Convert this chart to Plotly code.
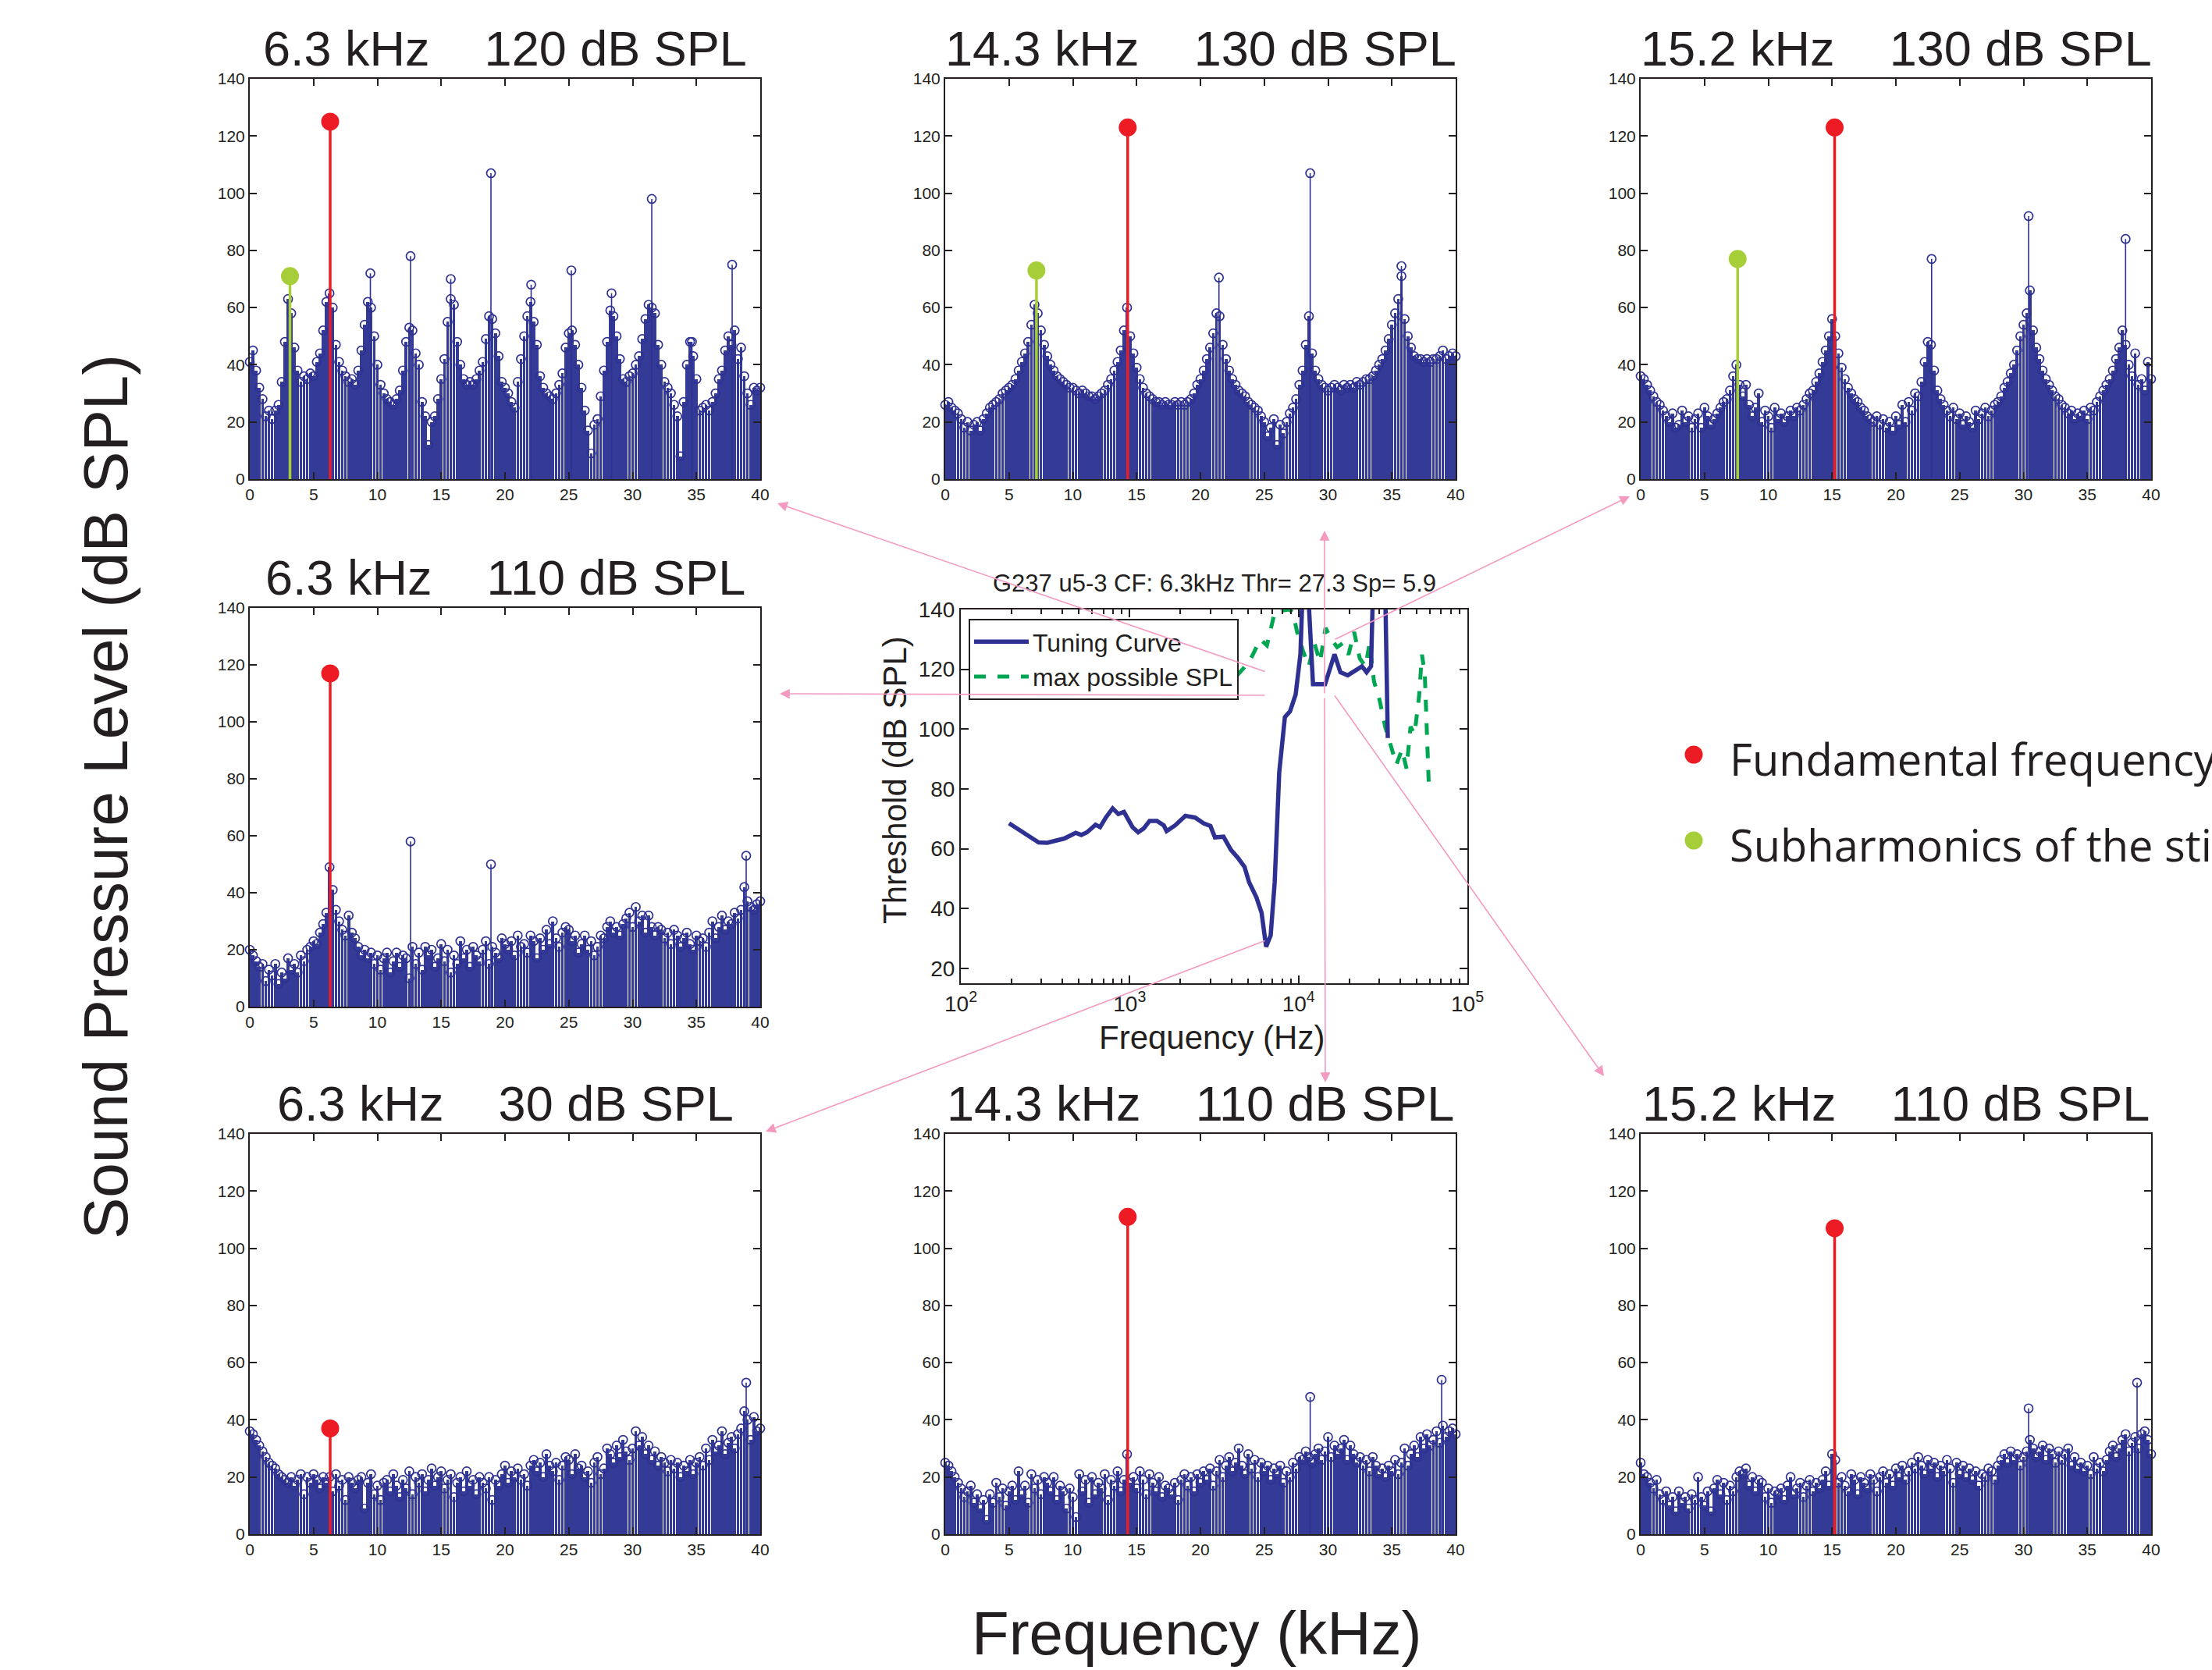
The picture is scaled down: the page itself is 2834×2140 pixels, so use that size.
import plotly.graph_objects as go

W, H = 2834, 2140

# ---------------- DATA ----------------
# Spectra, dB SPL, on 0.25 kHz bins from 0 to 40 kHz (20 bins per row = 5 kHz)
BIN_KHZ = 0.25

SPEC_63_120 = [
    41, 45, 38, 32, 28, 22, 24, 21, 24, 26, 34, 48, 63, 58, 46, 38, 34, 36, 35, 37,
    36, 41, 44, 52, 62, 65, 60, 47, 41, 38, 36, 34, 35, 33, 38, 45, 54, 62, 60, 50,
    40, 33, 30, 28, 27, 26, 28, 31, 38, 48, 53, 52, 44, 40, 27, 22, 12, 20, 22, 28,
    35, 42, 55, 63, 61, 48, 40, 35, 33, 34, 33, 35, 38, 41, 49, 57, 56, 51, 43, 34,
    32, 30, 27, 25, 34, 42, 50, 57, 62, 55, 47, 36, 32, 30, 29, 28, 30, 33, 37, 46,
    51, 52, 47, 40, 32, 24, 17, 9, 19, 21, 29, 38, 48, 59, 57, 50, 42, 35, 34, 36,
    37, 40, 43, 49, 56, 61, 60, 58, 47, 40, 34, 32, 30, 26, 22, 8, 27, 40, 48, 43,
    35, 24, 25, 26, 24, 27, 30, 35, 38, 45, 50, 47, 52, 42, 46, 36, 30, 26, 32, 31,
    32]
SPEC_143_130 = [
    26, 27, 25, 24, 23, 21, 18, 20, 17, 19, 20, 17, 21, 23, 25, 26, 27, 28, 30, 31,
    32, 33, 35, 38, 41, 44, 48, 54, 61, 58, 52, 47, 43, 40, 38, 36, 35, 34, 33, 32,
    32, 31, 30, 31, 30, 29, 29, 28, 29, 30, 31, 33, 35, 38, 41, 45, 52, 60, 50, 44,
    39, 35, 32, 30, 29, 28, 27, 27, 26, 27, 26, 26, 27, 26, 27, 26, 27, 28, 30, 33,
    35, 38, 42, 46, 51, 58, 57, 47, 42, 38, 35, 33, 31, 30, 29, 27, 26, 25, 24, 22,
    20, 15, 18, 21, 12, 19, 16, 20, 23, 25, 28, 33, 38, 47, 57, 44, 38, 35, 33, 32,
    31, 32, 33, 32, 31, 33, 32, 33, 32, 34, 33, 34, 35, 35, 36, 38, 40, 42, 45, 49,
    54, 58, 63, 71, 56, 50, 46, 43, 42, 42, 41, 42, 41, 42, 42, 43, 45, 42, 43, 44,
    43]
SPEC_152_130 = [
    36, 35, 33, 31, 29, 27, 26, 24, 22, 20, 23, 18, 19, 24, 20, 22, 18, 21, 23, 18,
    25, 22, 19, 21, 23, 25, 27, 28, 31, 36, 40, 33, 29, 33, 26, 22, 25, 30, 20, 24,
    22, 18, 25, 21, 23, 20, 22, 24, 22, 25, 24, 26, 28, 30, 31, 34, 37, 41, 45, 50,
    56, 50, 44, 39, 35, 32, 30, 28, 27, 25, 24, 22, 21, 20, 22, 19, 21, 18, 20, 17,
    22, 19, 26, 20, 27, 24, 30, 29, 34, 41, 48, 47, 38, 31, 28, 26, 24, 22, 25, 21,
    23, 19, 22, 20, 18, 24, 21, 23, 25, 22, 24, 26, 27, 29, 32, 34, 37, 40, 45, 50,
    54, 58, 66, 52, 46, 42, 38, 35, 33, 31, 29, 28, 26, 25, 23, 24, 21, 23, 22, 24,
    21, 25, 24, 27, 29, 31, 33, 35, 38, 42, 46, 52, 47, 40, 36, 44, 33, 35, 31, 41,
    35]
SPEC_63_110 = [
    20, 18, 16, 14, 15, 9, 13, 11, 15, 8, 12, 10, 17, 13, 15, 12, 18, 16, 20, 21,
    23, 22, 26, 29, 33, 49, 41, 34, 30, 27, 25, 32, 26, 24, 21, 18, 20, 17, 19, 15,
    18, 13, 17, 19, 12, 16, 19, 14, 18, 17, 10, 21, 15, 19, 13, 21, 18, 20, 14, 17,
    22, 16, 20, 12, 18, 15, 23, 17, 20, 14, 21, 18, 16, 20, 23, 15, 21, 19, 17, 24,
    22, 20, 23, 18, 25, 21, 22, 19, 25, 23, 17, 24, 20, 27, 22, 30, 24, 21, 26, 28,
    27, 23, 25, 19, 22, 25, 20, 23, 18, 21, 25, 24, 28, 30, 26, 28, 25, 29, 31, 33,
    28, 35, 30, 32, 26, 32, 28, 25, 28, 27, 24, 26, 22, 27, 25, 21, 24, 26, 22, 20,
    25, 23, 24, 21, 26, 30, 24, 28, 32, 27, 30, 29, 33, 31, 34, 42, 37, 35, 34, 36,
    37]
SPEC_63_30 = [
    36, 35, 33, 31, 29, 27, 25, 24, 23, 21, 20, 19, 18, 20, 17, 19, 21, 14, 20, 18,
    21, 19, 16, 20, 18, 20, 15, 21, 17, 19, 12, 20, 18, 16, 19, 20, 9, 18, 21, 14,
    17, 12, 18, 19, 15, 21, 17, 13, 19, 16, 22, 14, 20, 18, 21, 15, 19, 23, 17, 20,
    22, 16, 19, 21, 13, 18, 20, 15, 22, 17, 19, 14, 20, 18, 16, 20, 12, 19, 17, 21,
    24, 18, 22, 20, 23, 19, 21, 17, 24, 26, 22, 25, 20, 28, 24, 22, 25, 19, 24, 27,
    26, 21, 28, 23, 24, 20, 22, 18, 25, 27, 21, 23, 30, 28, 25, 31, 27, 33, 29, 26,
    30, 36, 31, 34, 28, 31, 26, 29, 24, 27, 25, 22, 26, 23, 25, 20, 24, 22, 26, 21,
    25, 27, 24, 30, 26, 33, 29, 31, 36, 28, 32, 34, 30, 35, 37, 43, 40, 33, 41, 36,
    37]
SPEC_143_110 = [
    25, 24, 22, 20, 18, 16, 13, 15, 17, 11, 14, 9, 12, 5, 14, 11, 18, 13, 16, 10,
    15, 17, 12, 22, 14, 17, 11, 21, 16, 19, 14, 20, 18, 15, 20, 12, 17, 15, 9, 16,
    13, 6, 21, 15, 19, 11, 20, 14, 18, 16, 21, 12, 19, 17, 22, 15, 19, 28, 18, 20,
    16, 22, 19, 14, 21, 18, 15, 20, 13, 17, 16, 14, 18, 12, 19, 21, 17, 20, 15, 21,
    18, 22, 19, 23, 17, 22, 26, 20, 24, 27, 22, 25, 30, 24, 21, 28, 23, 26, 20, 25,
    22, 24, 19, 23, 21, 24, 18, 22, 20, 25, 23, 27, 26, 29, 27, 25, 28, 30, 26, 29,
    34, 27, 31, 28, 30, 33, 26, 31, 28, 25, 27, 24, 26, 22, 27, 24, 21, 23, 20, 24,
    22, 26, 21, 25, 30, 24, 28, 31, 27, 34, 30, 35, 31, 33, 36, 32, 38, 34, 36, 37,
    35]
SPEC_152_110 = [
    25, 21, 20, 18, 16, 19, 14, 12, 15, 10, 13, 8, 15, 11, 13, 9, 14, 12, 20, 13,
    10, 15, 8, 16, 19, 14, 18, 12, 17, 15, 20, 22, 21, 23, 17, 20, 15, 19, 18, 13,
    16, 11, 15, 14, 16, 12, 17, 20, 14, 16, 18, 13, 17, 19, 15, 18, 16, 19, 22, 17,
    28, 26, 18, 20, 17, 15, 21, 19, 14, 20, 18, 16, 21, 19, 15, 20, 22, 18, 21, 17,
    23, 20, 24, 19, 22, 25, 23, 27, 24, 21, 26, 23, 25, 20, 24, 22, 26, 23, 18, 25,
    21, 24, 20, 23, 19, 22, 17, 21, 20, 23, 22, 19, 24, 26, 28, 25, 29, 26, 28, 24,
    27, 29, 33, 30, 27, 29, 31, 26, 30, 28, 25, 29, 26, 28, 30, 24, 27, 23, 25, 22,
    24, 21, 27, 23, 25, 22, 26, 29, 31, 27, 30, 33, 35, 29, 32, 34, 30, 35, 36, 33,
    28]

# Isolated harmonic / distortion components (kHz, dB SPL)
PEAK_F_63_120 = [9.45, 12.6, 15.75, 18.9, 22.05, 25.2, 28.35, 31.5, 34.65, 37.8]
PEAK_L_63_120 = [72, 78, 70, 107, 68, 73, 65, 98, 48, 75]
PEAK_F_143_130 = [21.45, 28.6, 35.75]
PEAK_L_143_130 = [70.5, 107, 74.5]
PEAK_F_152_130 = [22.8, 30.4, 38.0]
PEAK_L_152_130 = [77, 92, 84]
PEAK_F_63_110 = [12.6, 18.9, 38.9]
PEAK_L_63_110 = [58, 50, 53]
PEAK_F_63_30 = [38.9]
PEAK_L_63_30 = [53]
PEAK_F_143_110 = [28.6, 38.9]
PEAK_L_143_110 = [48, 54]
PEAK_F_152_110 = [30.4, 38.9]
PEAK_L_152_110 = [44, 53]

# Fundamental (red) and subharmonic (green) components
FUND_F = [6.3, 14.3, 15.2, 6.3, 6.3, 14.3, 15.2]
FUND_L = [125, 123, 123, 117, 37, 111, 107]
SUB_F = [3.15, 7.15, 7.6, None, None, None, None]
SUB_L = [71, 73, 77, None, None, None, None]

TITLE_FREQ = ["6.3 kHz", "14.3 kHz", "15.2 kHz", "6.3 kHz", "6.3 kHz", "14.3 kHz", "15.2 kHz"]
TITLE_LEVEL = ["120 dB SPL", "130 dB SPL", "130 dB SPL", "110 dB SPL", "30 dB SPL", "110 dB SPL", "110 dB SPL"]

# Tuning curve (Hz, dB SPL)
TC_FREQ = [193, 289, 325, 410, 479, 517, 559, 628, 668, 722, 793, 857, 925, 1040, 1123,
           1213, 1312, 1451, 1592, 1655, 1858, 2137, 2440, 2741, 3007, 3199, 3594, 3979,
           4368, 4790, 5096, 5635, 6041, 6428, 6840, 7224, 7688, 8303, 8905, 9616, 10260,
           10700, 11300, 11550, 12180, 14360, 16330, 17700, 19560, 21900, 23750, 25300,
           26880, 27700, 32550, 33770]
TC_THR = [68.5, 62.1, 62, 63.4, 65.3, 64.6, 65.5, 68, 67.2, 70.4, 73.5, 71.6, 72.3, 67.2, 65.5,
          66.8, 69.3, 69.3, 67.8, 65.9, 67.8, 71, 70.4, 68.5, 67.6, 63.8, 64, 59.6,
          57, 53.9, 48.8, 43.7, 38.6, 27.2, 31, 48.8, 85.6, 104, 105.9, 111.6, 125,
          155, 155, 140, 115, 115, 125, 119, 118, 120, 121, 119,
          121, 150, 150, 97]
MS_FREQ = [193, 400, 800, 1500, 2500, 3594, 5096, 5945, 6500, 7224, 7800, 8770, 9270, 9800,
           10650, 11500, 12420, 13400, 14450, 15680, 16930, 18270, 19780, 21350, 23060,
           24920, 26350, 27980, 30200, 32580, 35180, 37980, 41000, 43620, 46070, 48660,
           51760, 53800, 55930, 59050]
MS_SPL = [113, 113, 113, 113, 113, 112.9, 122.4, 130, 128, 139, 139.5, 140, 139, 132.5,
          126, 121, 128.7, 122.4, 133.8, 130, 127.4, 128.7, 124.9, 132.5, 123.6,
          121, 128.7, 116, 109.7, 100.8, 94.5, 88.1, 93.2, 86.8, 100.8, 98.3,
          111, 124.9, 118.6, 81.8]

SPECTRA = [SPEC_63_120, SPEC_143_130, SPEC_152_130, SPEC_63_110, SPEC_63_30, SPEC_143_110, SPEC_152_110]
PEAKS_F = [PEAK_F_63_120, PEAK_F_143_130, PEAK_F_152_130, PEAK_F_63_110, PEAK_F_63_30, PEAK_F_143_110, PEAK_F_152_110]
PEAKS_L = [PEAK_L_63_120, PEAK_L_143_130, PEAK_L_152_130, PEAK_L_63_110, PEAK_L_63_30, PEAK_L_143_110, PEAK_L_152_110]

# ---------------- STYLE / LAYOUT ----------------
BLUE = "#2e3192"
FILL = "#343b96"
RED = "#ed1c24"
GREEN = "#a6ce39"
DGREEN = "#00a651"
PINK = "#f49ac1"
TXT = "#231f20"
FONT = "Liberation Sans, Arial, Helvetica, sans-serif"
LFONT = "Open Sans, Lato, sans-serif"

# panel boxes in pixels: (left, right, top, bottom)
BOXES = [(320, 974, 101, 614), (1211, 1865, 101, 614), (2102, 2756, 101, 614),
         (320, 974, 779, 1290),
         (320, 974, 1453, 1966), (1211, 1865, 1453, 1966), (2102, 2756, 1453, 1966)]
CENTER_BOX = (1231, 1880, 781, 1260)


def px(x):
    return x / W


def py(y):
    return 1 - y / H


fig = go.Figure()
layout = {}
annotations = []
shapes = []

for i, spec in enumerate(SPECTRA):
    n = i + 1
    xa = "x" if n == 1 else f"x{n}"
    ya = "y" if n == 1 else f"y{n}"
    freqs = [k * BIN_KHZ for k in range(len(spec))]
    fig.add_trace(go.Bar(x=freqs, y=spec, width=0.225, marker=dict(color=FILL, line=dict(width=0)),
                         xaxis=xa, yaxis=ya, showlegend=False))
    fig.add_trace(go.Scatter(x=freqs, y=spec, mode="markers", xaxis=xa, yaxis=ya, showlegend=False,
                             cliponaxis=False,
                             marker=dict(symbol="circle-open", size=11, color=BLUE, line=dict(width=1.7))))
    sx, sy = [], []
    for f, l in zip(PEAKS_F[i], PEAKS_L[i]):
        sx += [f, f, None]
        sy += [0, l, None]
    fig.add_trace(go.Scatter(x=sx, y=sy, mode="lines", xaxis=xa, yaxis=ya, showlegend=False,
                             line=dict(color=BLUE, width=1.6)))
    fig.add_trace(go.Scatter(x=PEAKS_F[i], y=PEAKS_L[i], mode="markers", xaxis=xa, yaxis=ya,
                             showlegend=False, cliponaxis=False,
                             marker=dict(symbol="circle-open", size=11, color=BLUE, line=dict(width=1.7))))
    if SUB_F[i] is not None:
        fig.add_trace(go.Scatter(x=[SUB_F[i], SUB_F[i]], y=[0, SUB_L[i]], mode="lines", xaxis=xa, yaxis=ya,
                                 showlegend=False, line=dict(color=GREEN, width=3.5)))
        fig.add_trace(go.Scatter(x=[SUB_F[i]], y=[SUB_L[i]], mode="markers", xaxis=xa, yaxis=ya,
                                 showlegend=False, cliponaxis=False,
                                 marker=dict(size=23, color=GREEN)))
    fig.add_trace(go.Scatter(x=[FUND_F[i], FUND_F[i]], y=[0, FUND_L[i]], mode="lines", xaxis=xa, yaxis=ya,
                             showlegend=False, line=dict(color=RED, width=3.5)))
    fig.add_trace(go.Scatter(x=[FUND_F[i]], y=[FUND_L[i]], mode="markers", xaxis=xa, yaxis=ya,
                             showlegend=False, cliponaxis=False,
                             marker=dict(size=23, color=RED)))

    l, r, t, b = BOXES[i]
    common = dict(showline=True, linecolor=TXT, linewidth=2, mirror="ticks", ticks="inside",
                  ticklen=9, tickwidth=2, tickcolor=TXT, showgrid=False, zeroline=False,
                  automargin=False,
                  tickfont=dict(size=21, family=FONT, color=TXT))
    layout["xaxis" if n == 1 else f"xaxis{n}"] = dict(
        domain=[px(l), px(r)], range=[0, 40], tickvals=list(range(0, 41, 5)), anchor=ya, **common)
    layout["yaxis" if n == 1 else f"yaxis{n}"] = dict(
        domain=[py(b), py(t)], range=[0, 140], tickvals=list(range(0, 141, 20)), anchor=xa, **common)
    annotations.append(dict(
        text=f"{TITLE_FREQ[i]}\u00a0\u00a0\u00a0\u00a0{TITLE_LEVEL[i]}",
        x=px((l + r) / 2), y=py(t - 39), xref="paper", yref="paper", xanchor="center", yanchor="middle",
        showarrow=False, font=dict(size=63, family=FONT, color=TXT)))

# ---- central tuning-curve plot ----
fig.add_trace(go.Scatter(x=MS_FREQ, y=MS_SPL, mode="lines", name="max possible SPL", xaxis="x8", yaxis="y8",
                         line=dict(color=DGREEN, width=5, dash="dash")))
fig.add_trace(go.Scatter(x=TC_FREQ, y=TC_THR, mode="lines", name="Tuning Curve", xaxis="x8", yaxis="y8",
                         line=dict(color=BLUE, width=5.5)))

cl, cr, ct, cb = CENTER_BOX
minor_vals = [m * 10 ** e for e in range(2, 5) for m in range(2, 10)]
ccommon = dict(showline=True, linecolor=TXT, linewidth=2, mirror="ticks", ticks="inside",
               ticklen=10, tickwidth=2, tickcolor=TXT, showgrid=False, zeroline=False,
               automargin=False,
               tickfont=dict(size=28, family=FONT, color=TXT))
layout["xaxis8"] = dict(domain=[px(cl), px(cr)], type="log", range=[2, 5], anchor="y8",
                        tickvals=[100, 1000, 10000, 100000],
                        ticktext=["10<sup>2</sup>", "10<sup>3</sup>", "10<sup>4</sup>", "10<sup>5</sup>"],
                        minor=dict(ticks="inside", ticklen=6, tickwidth=1.5, tickcolor=TXT,
                                   tickmode="array", tickvals=minor_vals, showgrid=False),
                        **ccommon)
layout["yaxis8"] = dict(domain=[py(cb), py(ct)], range=[15, 140], anchor="x8",
                        tickvals=list(range(20, 141, 20)), **ccommon)

annotations += [
    dict(text="G237 u5-3 CF: 6.3kHz Thr= 27.3 Sp= 5.9", x=px((cl + cr) / 2), y=py(748),
         xref="paper", yref="paper", showarrow=False, xanchor="center", yanchor="middle",
         font=dict(size=31, family=FONT, color=TXT)),
    dict(text="Threshold (dB SPL)", x=px(1146), y=py(1000), textangle=-90,
         xref="paper", yref="paper", showarrow=False, xanchor="center", yanchor="middle",
         font=dict(size=42, family=FONT, color=TXT)),
    dict(text="Frequency (Hz)", x=px(1552), y=py(1329),
         xref="paper", yref="paper", showarrow=False, xanchor="center", yanchor="middle",
         font=dict(size=42, family=FONT, color=TXT)),
    dict(text="Sound Pressure Level (dB SPL)", x=px(135), y=py(1021), textangle=-90,
         xref="paper", yref="paper", showarrow=False, xanchor="center", yanchor="middle",
         font=dict(size=80, family=FONT, color=TXT)),
    dict(text="Frequency (kHz)", x=px(1533), y=py(2093),
         xref="paper", yref="paper", showarrow=False, xanchor="center", yanchor="middle",
         font=dict(size=78, family=FONT, color=TXT)),
    dict(text="Fundamental frequency", x=px(2214), y=py(972),
         xref="paper", yref="paper", showarrow=False, xanchor="left", yanchor="middle",
         font=dict(size=56, family=LFONT, color=TXT)),
    dict(text="Subharmonics of the stimulus", x=px(2214), y=py(1082),
         xref="paper", yref="paper", showarrow=False, xanchor="left", yanchor="middle",
         font=dict(size=56, family=LFONT, color=TXT)),
]

for (cx, cy, col) in [(2170, 967, RED), (2170, 1077, GREEN)]:
    shapes.append(dict(type="circle", xref="paper", yref="paper",
                       x0=px(cx - 11.5), x1=px(cx + 11.5), y0=py(cy + 11.5), y1=py(cy - 11.5),
                       fillcolor=col, line=dict(width=0)))

# pink arrows: (head_x, head_y, tail_x, tail_y) in pixels
ARROWS = [(996, 645, 1622, 861), (999, 889, 1622, 891), (1697, 680, 1697, 890),
          (2088, 636, 1709, 820), (2055, 1379, 1709, 890), (981, 1450, 1622, 1205),
          (1698, 1387, 1697, 893)]
for hx, hy, tx, ty in ARROWS:
    annotations.append(dict(text="", x=px(hx), y=py(hy), xref="paper", yref="paper",
                            ax=tx - hx, ay=ty - hy, axref="pixel", ayref="pixel",
                            showarrow=True, arrowhead=2, arrowsize=1.6, arrowwidth=1.6,
                            arrowcolor=PINK))

fig.update_layout(
    width=W, height=H, margin=dict(l=0, r=0, t=0, b=0, pad=0, autoexpand=False),
    paper_bgcolor="white", plot_bgcolor="white",
    barmode="overlay", bargap=0,
    annotations=annotations, shapes=shapes,
    legend=dict(x=px(1241), y=py(793), xanchor="left", yanchor="top",
                bgcolor="white", bordercolor=TXT, borderwidth=2,
                font=dict(size=32, family=FONT, color=TXT), itemwidth=70,
                traceorder="reversed", tracegroupgap=0),
    **layout,
)

fig.write_html("out.html")
